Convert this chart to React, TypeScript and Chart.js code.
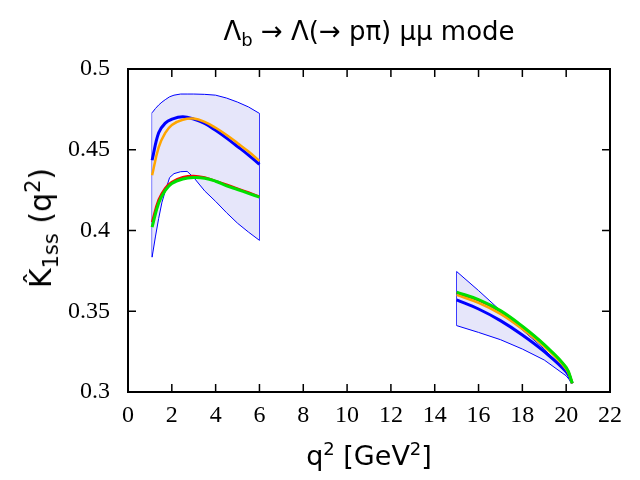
import { useEffect, useRef } from "react"
import { Chart, registerables } from "chart.js"

Chart.register(...registerables)

// q^2 points
const q2Low = [1.1, 1.4, 1.7, 2.0, 2.5, 3.0, 3.5, 4.0, 4.5, 5.0, 5.5, 6.0]
const q2High = [15, 16, 17, 18, 19, 20, 20.28]

const blueLow = [0.4435, 0.4605, 0.4665, 0.4689, 0.4704, 0.469, 0.4663, 0.462, 0.4572, 0.452, 0.4467, 0.441]
const orangeLow = [0.4342, 0.4515, 0.4604, 0.4654, 0.4686, 0.4693, 0.4673, 0.4636, 0.4591, 0.4541, 0.4489, 0.4431]
const redLow = [0.4052, 0.419, 0.4262, 0.43, 0.433, 0.4338, 0.4328, 0.4306, 0.4284, 0.4259, 0.4235, 0.421]
const greenLow = [0.4021, 0.417, 0.4248, 0.4291, 0.4319, 0.4328, 0.4324, 0.4305, 0.4277, 0.4254, 0.423, 0.4207]

const blueHigh = [0.357, 0.3514, 0.3442, 0.3353, 0.325, 0.3125, 0.3054]
const orangeHigh = [0.3601, 0.3552, 0.3484, 0.339, 0.3281, 0.3142, 0.3054]
const redHigh = [0.3615, 0.3569, 0.35, 0.3403, 0.329, 0.315, 0.3054]
const greenHigh = [0.3618, 0.3572, 0.3504, 0.3407, 0.3293, 0.3152, 0.3054]

// uncertainty band
const bandLowQ = [1.1, 1.25, 1.4, 1.55, 1.7, 1.9, 2.1, 2.4, 2.7, 3.0, 3.5, 4.0, 4.5, 5.0, 5.5, 6.0]
const bandLowUpper = [0.4729, 0.4755, 0.4777, 0.4795, 0.481, 0.4828, 0.4838, 0.4845, 0.4845, 0.4845, 0.4843, 0.4838, 0.482, 0.4795, 0.4765, 0.4725]
const bandLowLower = [0.3835, 0.396, 0.4075, 0.4175, 0.4243, 0.4328, 0.4352, 0.4364, 0.4366, 0.4328, 0.4245, 0.418, 0.411, 0.4045, 0.399, 0.3939]
const bandHighUpper = [0.3746, 0.3628, 0.3504, 0.3384, 0.3266, 0.3121, 0.3054]
const bandHighLower = [0.3411, 0.3369, 0.3324, 0.3266, 0.3198, 0.31, 0.3054]

const bandFill = "rgb(230,230,250)"

const pts = (xs: number[], ys: number[]) => xs.map((x, i) => ({ x, y: ys[i] }))

const curve = (color: string, width: number, low: number[], high: number[]) => ({
    data: [...pts(q2Low, low), { x: 10, y: null }, ...pts(q2High, high)],
    borderColor: color,
    borderWidth: width,
    pointRadius: 0,
    fill: false,
    spanGaps: false,
    tension: 0.4,
})

const edge = (x: number, y1: number, y2: number) => ({
    data: [{ x, y: y1 }, { x, y: y2 }],
    borderColor: "blue",
    borderWidth: 1,
    pointRadius: 0,
    fill: false,
})

const band = (xs: number[], lower: number[], upper: number[]) => {
    const n = xs.length - 1
    return [
        { data: pts(xs, lower), borderColor: "blue", borderWidth: 1, pointRadius: 0, fill: false },
        { data: pts(xs, upper), borderColor: "blue", borderWidth: 1, pointRadius: 0, fill: "-1", backgroundColor: bandFill },
        edge(xs[0], lower[0], upper[0]),
        edge(xs[n], lower[n], upper[n]),
    ]
}

// frame + inward ticks on all four sides
const framePlugin = {
    id: "frame",
    afterDraw(chart: any) {
        const { ctx, chartArea: a, scales } = chart
        const len = 8
        ctx.save()
        ctx.strokeStyle = "#000"
        ctx.lineWidth = 1.5
        ctx.beginPath()
        scales.x.ticks.forEach((t: any) => {
            const px = scales.x.getPixelForValue(t.value)
            ctx.moveTo(px, a.bottom)
            ctx.lineTo(px, a.bottom - len)
            ctx.moveTo(px, a.top)
            ctx.lineTo(px, a.top + len)
        })
        scales.y.ticks.forEach((t: any) => {
            const py = scales.y.getPixelForValue(t.value)
            ctx.moveTo(a.left, py)
            ctx.lineTo(a.left + len, py)
            ctx.moveTo(a.right, py)
            ctx.lineTo(a.right - len, py)
        })
        ctx.stroke()
        ctx.lineWidth = 2
        ctx.strokeRect(a.left, a.top, a.right - a.left, a.bottom - a.top)
        ctx.restore()
    },
}

const App = () => {
    const canvasRef = useRef<HTMLCanvasElement>(null)

    useEffect(() => {
        if (!canvasRef.current) return

        const myChart = new Chart(canvasRef.current, {
            type: "line",
            data: {
                datasets: [
                    curve("#00e000", 3, greenLow, greenHigh),
                    curve("orange", 2.5, orangeLow, orangeHigh),
                    curve("red", 2.5, redLow, redHigh),
                    curve("blue", 3, blueLow, blueHigh),
                    ...band(bandLowQ, bandLowLower, bandLowUpper),
                    ...band(q2High, bandHighLower, bandHighUpper),
                ] as any,
            },
            options: {
                animation: false,
                responsive: false,
                layout: { padding: { top: 69, right: 30, left: 0, bottom: 0 } },
                plugins: { legend: { display: false }, tooltip: { enabled: false } },
                scales: {
                    x: {
                        type: "linear",
                        min: 0,
                        max: 22,
                        grid: { display: false },
                        border: { display: false },
                        ticks: {
                            stepSize: 2,
                            padding: 1,
                            color: "#000",
                            font: { family: "Liberation Serif", size: 24 },
                        },
                        afterFit: (s: any) => { s.height = 88 },
                    },
                    y: {
                        min: 0.3,
                        max: 0.5,
                        grid: { display: false },
                        border: { display: false },
                        ticks: {
                            stepSize: 0.05,
                            padding: 10,
                            color: "#000",
                            font: { family: "Liberation Serif", size: 24 },
                            callback: (v: any) => String(+Number(v).toFixed(2)),
                        },
                        afterFit: (s: any) => { s.width = 128 },
                    },
                },
            },
            plugins: [framePlugin],
        })

        return () => {
            myChart.destroy()
        }
    }, [])

    const sans = "'DejaVu Sans', sans-serif"

    return (
        <div style={{ position: "fixed", left: 0, top: 0, width: 640, height: 480, background: "#fff" }}>
            <canvas ref={canvasRef} width={640} height={480}></canvas>
            <div style={{ position: "absolute", top: 14, left: 128, width: 482, textAlign: "center", fontFamily: sans, fontSize: 26, lineHeight: "34px" }}>
                Λ<sub style={{ fontSize: 18 }}>b</sub> → Λ(→ pπ) μμ mode
            </div>
            <div style={{ position: "absolute", top: 432, left: 128, width: 482, textAlign: "center", fontFamily: sans, fontSize: 27, lineHeight: "34px" }}>
                q<sup style={{ fontSize: 18 }}>2</sup> [GeV<sup style={{ fontSize: 18 }}>2</sup>]
            </div>
            <div style={{ position: "absolute", left: 42, top: 228, transform: "translate(-50%, -50%) rotate(-90deg)", whiteSpace: "nowrap", fontFamily: sans, fontSize: 30, lineHeight: "36px" }}>
                K̂<sub style={{ fontSize: 21 }}>1ss</sub> (q<sup style={{ fontSize: 21 }}>2</sup>)
            </div>
        </div>
    )
}

export default App
